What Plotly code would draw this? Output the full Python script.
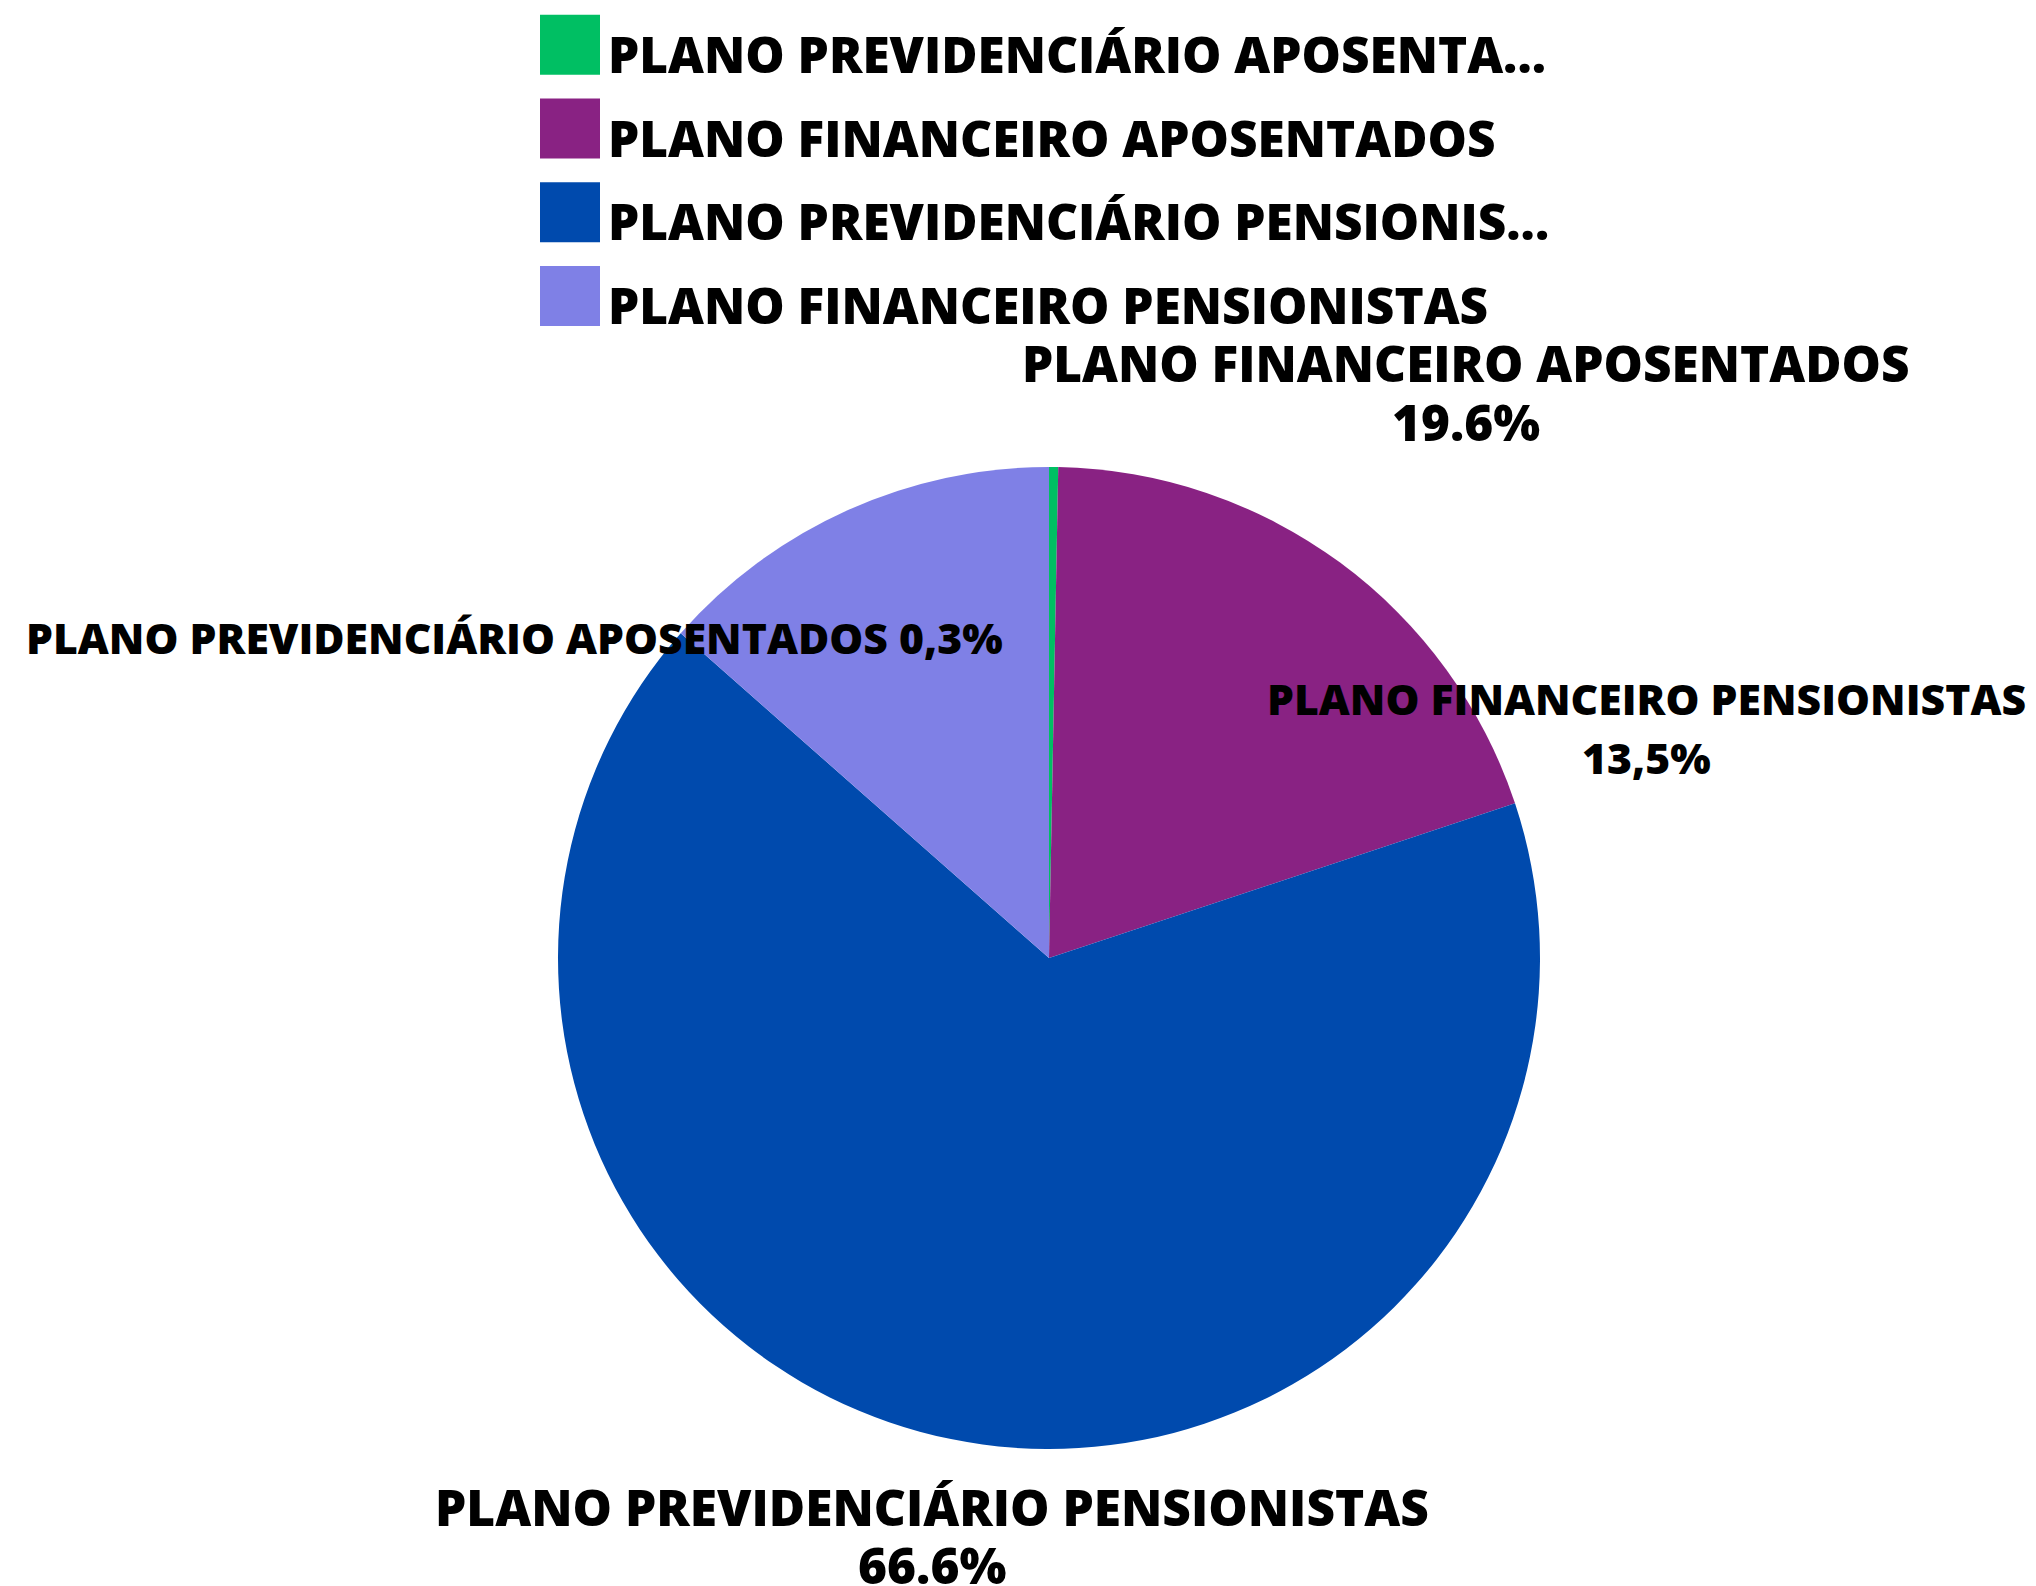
import plotly.graph_objects as go

# ---- data ----
categories = [
    "PLANO PREVIDENCIÁRIO APOSENTADOS",
    "PLANO FINANCEIRO APOSENTADOS",
    "PLANO PREVIDENCIÁRIO PENSIONISTAS",
    "PLANO FINANCEIRO PENSIONISTAS",
]
legend_names = [
    "PLANO PREVIDENCIÁRIO APOSENTA...",
    "PLANO FINANCEIRO APOSENTADOS",
    "PLANO PREVIDENCIÁRIO PENSIONIS...",
    "PLANO FINANCEIRO PENSIONISTAS",
]
values = [0.3, 19.6, 66.6, 13.5]
pct_labels = ["0,3%", "19.6%", "66.6%", "13,5%"]
colors = ["#00BF63", "#892283", "#004AAD", "#7F80E6"]

W, H = 2036, 1586
FONT = "Open Sans"

fig = go.Figure()

fig.add_trace(go.Pie(
    labels=categories,
    values=values,
    sort=False,
    direction="clockwise",
    rotation=0,
    marker=dict(colors=colors, line=dict(width=0)),
    textinfo="none",
    hoverinfo="label+percent",
    showlegend=False,
    domain=dict(x=[558 / W, 1540 / W], y=[1 - 1449 / H, 1 - 467 / H]),
))

# legend block (large square swatches)
fig.add_trace(go.Scatter(
    x=[0] * len(legend_names),
    y=legend_names,
    mode="markers",
    marker=dict(symbol="square", size=60, color=colors, line=dict(width=0)),
    cliponaxis=False,
    hoverinfo="skip",
    showlegend=False,
    xaxis="x",
    yaxis="y",
))

annotations = []
for name in legend_names:
    annotations.append(dict(
        x=1, y=name, xref="x", yref="y", xanchor="left", yanchor="middle",
        xshift=6, yshift=-9, text=name, showarrow=False, align="left",
        font=dict(family=FONT, size=49.5, color="#000000", weight=800),
    ))

# slice labels (placed as in the reference); name line and value line
label_pos = [
    dict(x=514, y=[637], size=42.7),
    dict(x=1466, y=[363, 422], size=49.5),
    dict(x=932, y=[1507, 1565], size=49.6),
    dict(x=1646, y=[698, 757], size=42.7),
]
for name, pct, p in zip(categories, pct_labels, label_pos):
    lines = [name + " " + pct] if len(p["y"]) == 1 else [name, pct]
    for txt, yy in zip(lines, p["y"]):
        annotations.append(dict(
            x=p["x"] / W, y=1 - yy / H, xref="paper", yref="paper",
            xanchor="center", yanchor="middle",
            text=txt, showarrow=False, align="center",
            font=dict(family=FONT, size=p["size"], color="#000000", weight=800),
        ))

fig.update_layout(
    width=W, height=H,
    margin=dict(l=0, r=0, t=0, b=0),
    paper_bgcolor="white", plot_bgcolor="rgba(0,0,0,0)",
    xaxis=dict(domain=[540 / W, 600 / W], range=[-1, 1], visible=False, fixedrange=True),
    yaxis=dict(domain=[1 - 338 / H, 1 - 3 / H], type="category",
               categoryorder="array", categoryarray=legend_names,
               range=[3.5, -0.5], visible=False, fixedrange=True),
    annotations=annotations,
    showlegend=False,
)

fig.write_html("out.html", config={"displayModeBar": False},
               post_script="document.body.style.margin='0';")
